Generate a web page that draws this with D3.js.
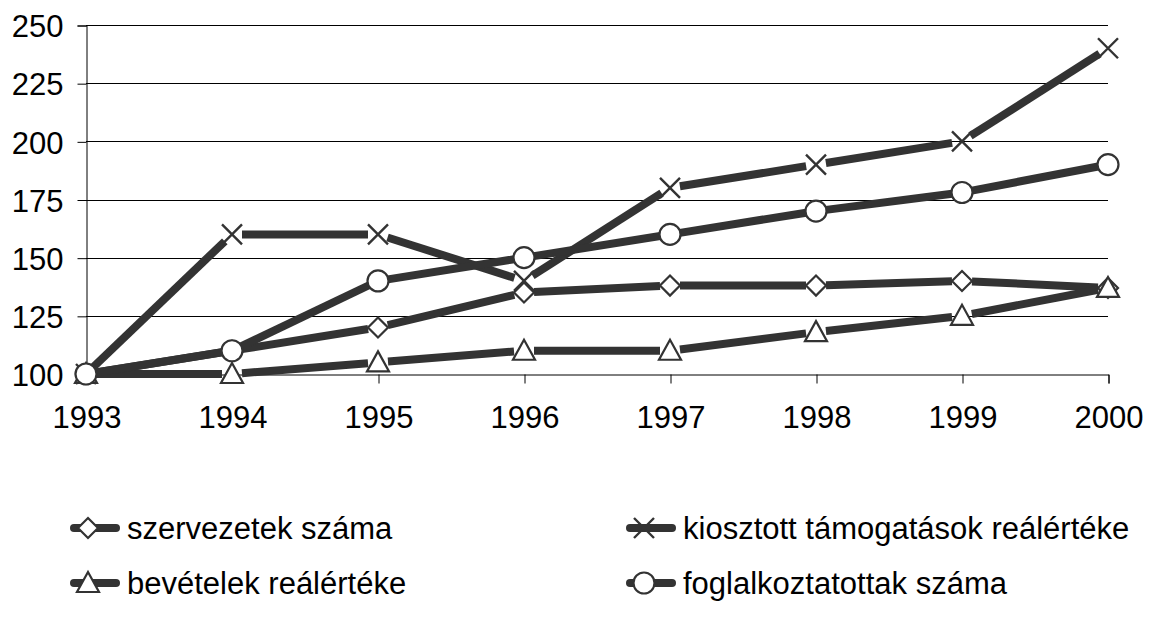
<!DOCTYPE html>
<html>
<head>
<meta charset="utf-8">
<script src="https://cdn.jsdelivr.net/npm/d3@7"></script>
<style>
  body { margin: 0; background: #fff; }
  text { font-family: "Liberation Sans", Arial, sans-serif; fill: #000; }
</style>
</head>
<body>
<div id="chart"></div>
<script>
let years = ["1993", "1994", "1995", "1996", "1997", "1998", "1999", "2000"];
let yTicks = [100, 125, 150, 175, 200, 225, 250];

let seriesNames = [
    "szervezetek száma",
    "kiosztott támogatások reálértéke",
    "bevételek reálértéke",
    "foglalkoztatottak száma"
];
let szervezetek = [100, 110, 120, 135, 138, 138, 140, 137];
let kiosztott = [100, 160, 160, 140, 180, 190, 200, 240];
let bevetelek = [100, 100, 105, 110, 110, 118, 125, 137];
let foglalkoztatottak = [100, 110, 140, 150, 160, 170, 178, 190];

let seriesValues = [szervezetek, kiosztott, bevetelek, foglalkoztatottak];
let markerTypes = ["diamond", "cross", "triangle", "circle"];

let W = 1150, H = 622;
let plot = {left: 86, right: 1108, top: 25, bottom: 374};
let ink = "#333";
let fontSize = "31px";

let svg = d3.select("#chart").append("svg")
    .attr("width", W)
    .attr("height", H);

let x = d3.scalePoint().domain(years).range([plot.left, plot.right]);
let y = d3.scaleLinear().domain([100, 250]).range([plot.bottom, plot.top]);

// gridlines
svg.append("g")
    .selectAll("line")
    .data(yTicks.filter(function(d) { return d > 100; }))
    .enter().append("line")
    .attr("x1", plot.left).attr("x2", plot.right)
    .attr("y1", function(d) { return Math.round(y(d)) + 0.5; })
    .attr("y2", function(d) { return Math.round(y(d)) + 0.5; })
    .attr("stroke", "#000")
    .attr("stroke-width", 1);

// y axis
let yAxis = svg.append("g")
    .attr("transform", "translate(" + (plot.left + 0.5) + ",0.5)")
    .call(d3.axisLeft(y).tickValues(yTicks).tickSize(9).tickPadding(14));
yAxis.selectAll("text").style("font-size", fontSize).attr("dy", "0.36em");

// x axis
let xAxis = svg.append("g")
    .attr("transform", "translate(0.5," + (Math.round(plot.bottom) + 0.5) + ")")
    .call(d3.axisBottom(x).tickSize(9).tickPadding(22));
xAxis.selectAll("text").style("font-size", fontSize);

svg.selectAll(".domain").attr("stroke", "#000");
svg.selectAll(".tick line").attr("stroke", "#000");

// draw a marker centred at 0,0
function drawMarker(g, type) {
    if (type === "diamond") {
        g.append("path").attr("d", "M0,-10L10,0L0,10L-10,0Z")
            .attr("fill", "#fff").attr("stroke", ink).attr("stroke-width", 2.2);
    } else if (type === "triangle") {
        g.append("path").attr("d", "M0,-11L11,9L-11,9Z")
            .attr("fill", "#fff").attr("stroke", ink).attr("stroke-width", 2.2);
    } else if (type === "circle") {
        g.append("circle").attr("r", 10.5)
            .attr("fill", "#fff").attr("stroke", ink).attr("stroke-width", 2.2);
    } else {
        g.append("path").attr("d", "M-10,-10L10,10M-10,10L10,-10")
            .attr("fill", "none").attr("stroke", ink).attr("stroke-width", 2.4);
    }
}

// lines, cut back at the markers
let gap = 10;
seriesValues.forEach(function(vals, si) {
    let pts = vals.map(function(v, i) { return [x(years[i]), y(v)]; });
    let segs = [];
    for (let i = 0; i < pts.length - 1; i++) {
        let a = pts[i], b = pts[i + 1];
        let dx = b[0] - a[0], dy = b[1] - a[1];
        let len = Math.sqrt(dx * dx + dy * dy);
        let ux = dx / len, uy = dy / len;
        segs.push([a[0] + ux * gap, a[1] + uy * gap, b[0] - ux * gap, b[1] - uy * gap]);
    }
    svg.append("g").selectAll("line")
        .data(segs)
        .enter().append("line")
        .attr("x1", function(d) { return d[0]; })
        .attr("y1", function(d) { return d[1]; })
        .attr("x2", function(d) { return d[2]; })
        .attr("y2", function(d) { return d[3]; })
        .attr("stroke", ink)
        .attr("stroke-width", 8);
});

// markers
seriesValues.forEach(function(vals, si) {
    svg.append("g").selectAll("g")
        .data(vals)
        .enter().append("g")
        .attr("transform", function(d, i) { return "translate(" + x(years[i]) + "," + y(d) + ")"; })
        .each(function() { drawMarker(d3.select(this), markerTypes[si]); });
});

// legend
let legendPos = [[70, 528], [626, 528], [70, 583], [626, 583]];
seriesNames.forEach(function(name, i) {
    let lg = svg.append("g").attr("transform", "translate(" + legendPos[i][0] + "," + legendPos[i][1] + ")");
    lg.append("line")
        .attr("x1", 4).attr("x2", 46)
        .attr("y1", 0).attr("y2", 0)
        .attr("stroke", ink).attr("stroke-width", 8)
        .attr("stroke-linecap", "round");
    let m = lg.append("g").attr("transform", "translate(18,0)");
    drawMarker(m, markerTypes[i]);
    lg.append("text")
        .attr("x", 57)
        .attr("y", 11)
        .style("font-size", fontSize)
        .text(name);
});
</script>
</body>
</html>
